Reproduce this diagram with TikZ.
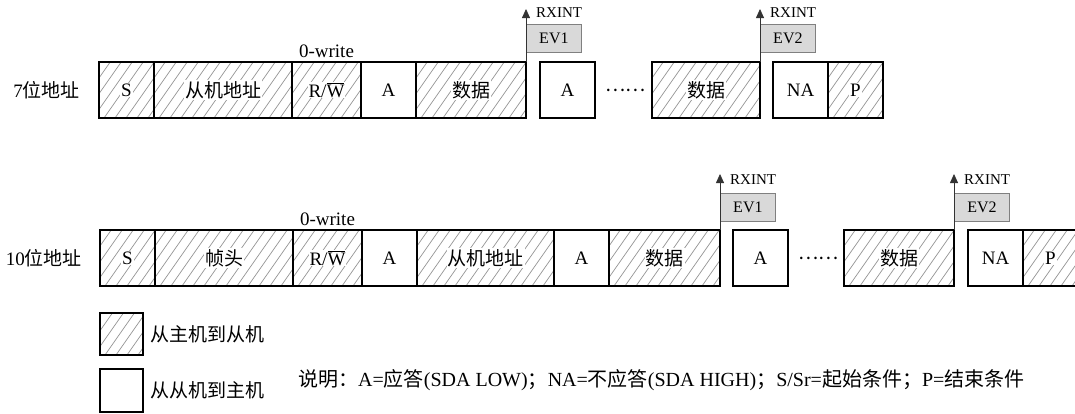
\documentclass[tikz,border=0pt]{standalone}
\usepackage{fontspec}
\setmainfont{Liberation Serif}
\newfontfamily\cjk{Noto Sans CJK SC}
\usetikzlibrary{positioning, arrows.meta}

\setlength{\fboxsep}{1pt}
\newcommand{\wb}[1]{\colorbox{white}{#1}}

\tikzset{
  box/.style={draw, line width=1.6pt, minimum width=55pt, minimum height=56pt,
    inner sep=0pt, outer sep=0pt, font=\fontsize{19}{19}\selectfont},
  hatched/.style={box, path picture={
      \foreach \k in {-50,-39,...,160}
        \draw[black!42, line width=0.7pt] ([xshift=\k pt]path picture bounding box.south west) -- ++(55:90pt);}},
  evbox/.style={draw=gray, fill=gray!30, line width=0.8pt, minimum width=55pt,
    minimum height=28pt, inner sep=0pt, font=\fontsize{16}{16}\selectfont},
  rx/.style={draw=black!80, line width=0.8pt, -{Triangle[length=9pt, width=8pt]}},
  rxtext/.style={anchor=west, inner sep=1pt, font=\fontsize{15}{15}\selectfont},
  lbl/.style={inner sep=2pt, font=\fontsize{19}{19}\selectfont},
}

\begin{document}
\begin{tikzpicture}[x=1pt, y=-1pt]
  \useasboundingbox (0,0) rectangle (1075,413);

  % 7-bit address
  \node[hatched, anchor=west] (s1) at (99,90) {\wb{S}};
  \node[hatched, minimum width=138pt, right=0pt of s1] (addr1) {\wb{\cjk 从机地址}};
  \node[hatched, minimum width=69pt, right=0pt of addr1] (rw1) {\wb{R/$\overline{\hbox{W}}$}};
  \node[box, right=0pt of rw1] (ack1) {A};
  \node[hatched, minimum width=110pt, right=0pt of ack1] (dat1) {\wb{\cjk 数据}};
  \node[box, right=14pt of dat1] (ackb1) {A};
  \node[lbl, right=8pt of ackb1] (dots1) {\cjk ……};
  \node[hatched, minimum width=108pt, right=57pt of ackb1] (datb1) {\wb{\cjk 数据}};
  \node[box, right=13pt of datb1] (nack1) {NA};
  \node[hatched, right=0pt of nack1] (stop1) {\wb{P}};
  \node[lbl, left=17pt of s1] (lab1) {7{\cjk 位地址}};
  \node[lbl, above=2pt of rw1] (wr1) {0-write};

  \node[evbox, above right=9pt and 0pt of dat1.north east] (ev1) {EV1};
  \coordinate[above=53pt of dat1.north east] (rx1);
  \draw[rx] (dat1.north east) -- (rx1);
  \node[rxtext] (rxl1) at ([xshift=9pt, yshift=-4pt]rx1) {RXINT};
  \node[evbox, above right=9pt and 0pt of datb1.north east] (ev2) {EV2};
  \coordinate[above=53pt of datb1.north east] (rx2);
  \draw[rx] (datb1.north east) -- (rx2);
  \node[rxtext] (rxl2) at ([xshift=9pt, yshift=-4pt]rx2) {RXINT};

  % 10-bit address
  \node[hatched, anchor=west] (s2) at (100,258) {\wb{S}};
  \node[hatched, minimum width=138pt, right=0pt of s2] (hdr2) {\wb{\cjk 帧头}};
  \node[hatched, minimum width=69pt, right=0pt of hdr2] (rw2) {\wb{R/$\overline{\hbox{W}}$}};
  \node[box, right=0pt of rw2] (ack2) {A};
  \node[hatched, minimum width=137pt, right=0pt of ack2] (addr2) {\wb{\cjk 从机地址}};
  \node[box, right=0pt of addr2] (acka2) {A};
  \node[hatched, minimum width=111pt, right=0pt of acka2] (dat2) {\wb{\cjk 数据}};
  \node[box, right=13pt of dat2] (ackb2) {A};
  \node[lbl, right=8pt of ackb2] (dots2) {\cjk ……};
  \node[hatched, minimum width=110pt, right=56pt of ackb2] (datb2) {\wb{\cjk 数据}};
  \node[box, right=14pt of datb2] (nack2) {NA};
  \node[hatched, right=0pt of nack2] (stop2) {\wb{P}};
  \node[lbl, left=16pt of s2] (lab2) {10{\cjk 位地址}};
  \node[lbl, above=2pt of rw2] (wr2) {0-write};

  \node[evbox, above right=8pt and 0pt of dat2.north east] (ev3) {EV1};
  \coordinate[above=56pt of dat2.north east] (rx3);
  \draw[rx] (dat2.north east) -- (rx3);
  \node[rxtext] (rxl3) at ([xshift=9pt, yshift=-6pt]rx3) {RXINT};
  \node[evbox, above right=8pt and 0pt of datb2.north east] (ev4) {EV2};
  \coordinate[above=56pt of datb2.north east] (rx4);
  \draw[rx] (datb2.north east) -- (rx4);
  \node[rxtext] (rxl4) at ([xshift=9pt, yshift=-6pt]rx4) {RXINT};

  % legend
  \node[hatched, minimum width=43pt, minimum height=42pt, anchor=north west] (keyh) at (100,313) {};
  \node[lbl, right=5pt of keyh] (keyhl) {\cjk 从主机到从机};
  \node[box, minimum width=43pt, minimum height=43pt, anchor=north west] (keyw) at (100,369) {};
  \node[lbl, right=5pt of keyw] (keywl) {\cjk 从从机到主机};
  \node[lbl, anchor=west, font=\fontsize{20}{20}\selectfont] (note) at (296,380)
    {{\cjk 说明：}A={\cjk 应答}(SDA LOW){\cjk ；}NA={\cjk 不应答}(SDA HIGH){\cjk ；}S/Sr={\cjk 起始条件；}P={\cjk 结束条件}};
\end{tikzpicture}
\end{document}
